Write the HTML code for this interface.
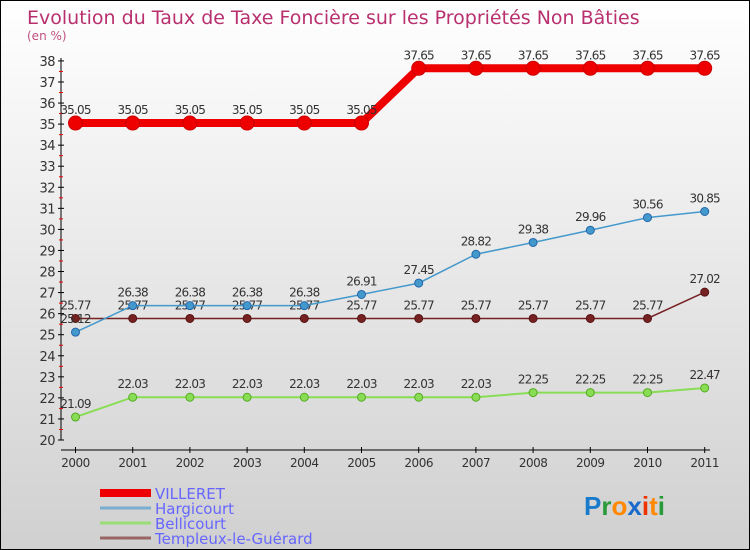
<!DOCTYPE html>
<html><head><meta charset="utf-8"><style>
body{margin:0}
#c{width:750px;height:550px;position:relative;box-sizing:border-box;border:1px solid #000;background:linear-gradient(#ffffff,#d0d0d0);font-family:"DejaVu Sans","Liberation Sans",sans-serif;overflow:hidden}
</style></head><body>
<div id="c">
<svg id="s" width="750" height="550" style="position:absolute;left:-1px;top:-1px"></svg>
</div>
<script>
const years=["2000","2001","2002","2003","2004","2005","2006","2007","2008","2009","2010","2011"];
const yTicks=[20,21,22,23,24,25,26,27,28,29,30,31,32,33,34,35,36,37,38];
const villeret=[35.05,35.05,35.05,35.05,35.05,35.05,37.65,37.65,37.65,37.65,37.65,37.65];
const hargicourt=[25.12,26.38,26.38,26.38,26.38,26.91,27.45,28.82,29.38,29.96,30.56,30.85];
const bellicourt=[21.09,22.03,22.03,22.03,22.03,22.03,22.03,22.03,22.25,22.25,22.25,22.47];
const templeux=[25.77,25.77,25.77,25.77,25.77,25.77,25.77,25.77,25.77,25.77,25.77,27.02];
const NS="http://www.w3.org/2000/svg";
const s=document.getElementById('s');
const X=i=>75.5+i*57.2;
const Y=v=>440-(v-20)*21.06;
function el(t,a,txt){const e=document.createElementNS(NS,t);for(const k in a)e.setAttribute(k,a[k]);if(txt!==undefined)e.textContent=txt;s.appendChild(e);return e;}
let t=el('text',{x:27,y:24,fill:'#b8306e','font-size':19},'Evolution du Taux de Taxe Foncière sur les Propriétés Non Bâties');

t=el('text',{x:27,y:40,fill:'#c05080','font-size':12},'(en %)');

// axes
let a=el('line',{x1:61,y1:58,x2:61,y2:440,stroke:'#000'});

a=el('line',{x1:61,y1:450,x2:710,y2:450,stroke:'#000'});

yTicks.forEach(v=>{
  el('line',{x1:58,y1:Y(v),x2:64,y2:Y(v),stroke:'#000'});
  if(v<38){el('line',{x1:59,y1:Y(v+0.5),x2:63,y2:Y(v+0.5),stroke:'#e00'});}
  const l=el('text',{x:55,y:Y(v)+5,'text-anchor':'end','font-size':13,fill:'#333','letter-spacing':'-0.5'},v);
  
});
years.forEach((y,i)=>{
  el('line',{x1:X(i),y1:447,x2:X(i),y2:453,stroke:'#000'});
  const l=el('text',{x:X(i),y:467,'text-anchor':'middle','font-size':12,fill:'#333','letter-spacing':'-0.5'},y);
  
});
function series(d,color,w,r,name,dark){
  const p=el('polyline',{points:d.map((v,i)=>X(i)+','+Y(v)).join(' '),fill:'none',stroke:color,'stroke-width':w});
  
  d.forEach((v,i)=>{
    const c=el('circle',{cx:X(i),cy:Y(v),r:r,fill:color,stroke:dark,'stroke-width':1});
    
    const l=el('text',{x:X(i),y:Y(v)-9,'text-anchor':'middle','font-size':12,fill:'#333','letter-spacing':'-0.8'},v.toFixed(2));
    
  });
}
series(bellicourt,'#88dd55',2,4,'bellicourt','#55aa22');
series(templeux,'#772222',1.5,4,'templeux','#551111');
series(hargicourt,'#4499cc',1.5,4,'hargicourt','#2266aa');
series(villeret,'#ee0000',8,7,'villeret','#cc0000');
// legend
const leg=[['VILLERET','#ee0000',8],['Hargicourt','#7aaed0',3],['Bellicourt','#99dd77',3],['Templeux-le-Guérard','#996666',3]];
leg.forEach((g,i)=>{
  const y=493+i*15;
  const ln=el('line',{x1:100,y1:y,x2:151,y2:y,stroke:g[1],'stroke-width':g[2]});
  
  const tx=el('text',{x:155,y:y+6,'font-size':15,fill:'#6666ff'},g[0]);
  
});
// logo
const lg=el('text',{x:584,y:515,'font-size':26,'font-weight':'bold','font-family':'Liberation Sans, sans-serif'});

[['P','#1a7acc'],['r','#2a9a3a'],['o','#ff8800'],['x','#1a6acc'],['i','#ee3300'],['t','#ff8800'],['i','#2a9a3a']].forEach(c=>{const sp=document.createElementNS(NS,'tspan');sp.setAttribute('fill',c[1]);sp.textContent=c[0];lg.appendChild(sp);});
</script>
</body></html>
